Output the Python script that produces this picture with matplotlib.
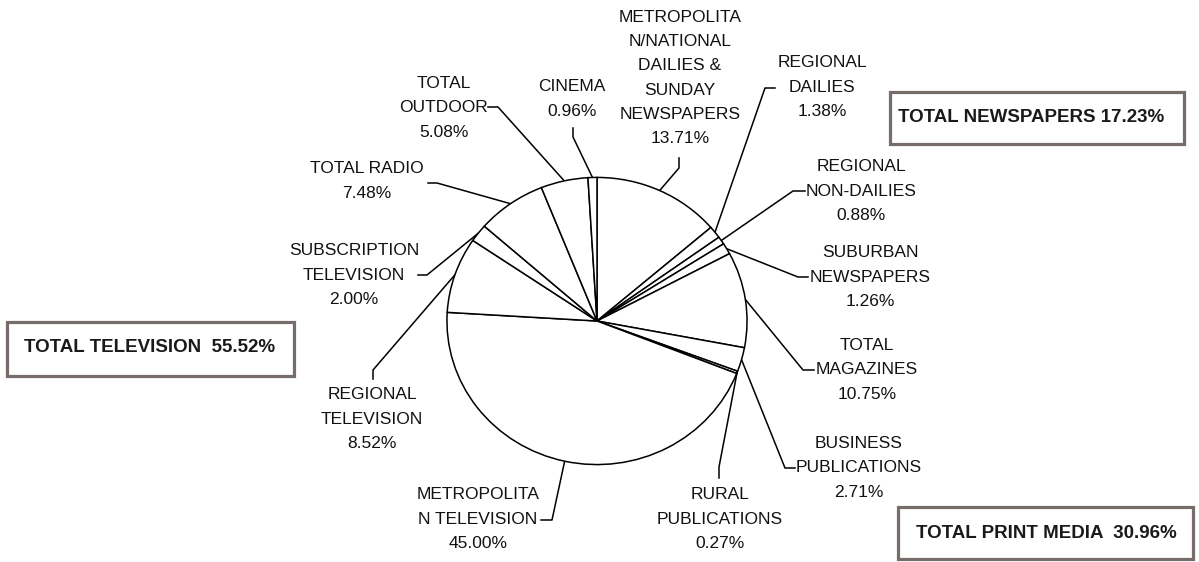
import numpy as np
import matplotlib
matplotlib.use("Agg")
import matplotlib.pyplot as plt
from matplotlib.patches import Rectangle

plt.rcParams['font.family'] = ['Liberation Sans', 'DejaVu Sans']

# media share data (clockwise from 12 o'clock)
names = ["METROPOLITA\nN/NATIONAL\nDAILIES &\nSUNDAY\nNEWSPAPERS",
         "REGIONAL\nDAILIES",
         "REGIONAL\nNON-DAILIES",
         "SUBURBAN\nNEWSPAPERS",
         "TOTAL\nMAGAZINES",
         "BUSINESS\nPUBLICATIONS",
         "RURAL\nPUBLICATIONS",
         "METROPOLITA\nN TELEVISION",
         "REGIONAL\nTELEVISION",
         "SUBSCRIPTION\nTELEVISION",
         "TOTAL RADIO",
         "TOTAL\nOUTDOOR",
         "CINEMA"]
shares = [13.71, 1.38, 0.88, 1.26, 10.75, 2.71, 0.27, 45.00, 8.52, 2.00, 7.48, 5.08, 0.96]

group_names = ["TOTAL TELEVISION  55.52%", "TOTAL NEWSPAPERS 17.23%", "TOTAL PRINT MEDIA  30.96%"]

# label layout in pixels: text centre, leader elbow, leader end
label_pos = [(680, 78), (822, 87), (861, 191), (870, 277), (867, 370), (859, 468),
             (720, 519), (478, 519), (372, 419), (354, 275), (367, 181), (444, 108), (572, 99)]
elbows = [(679, 168), (765, 88), (793, 191), (798, 277), (803, 370), (785, 468),
          (719, 467), (552, 520), (373, 370), (427, 275), (437, 183), (498, 107), (573, 137)]
ends = [(679, 158), (775, 88), (805, 191), (808, 277), (814, 370), (795, 468),
        (719, 478), (541, 520), (373, 379), (418, 275), (428, 183), (488, 107), (573, 128)]
# boxes: x0, y0, x1, y1 and text centre in pixels
boxes = [(7, 322, 294, 376), (890, 92, 1184, 144), (898, 507, 1193, 559)]
box_text = [(150, 348), (1031, 118), (1046, 533)]

W, H = 1199, 562
fig = plt.figure(figsize=(W / 100, H / 100), dpi=100)
ax = fig.add_axes([0, 0, 1, 1])
ax.set_xlim(0, W)
ax.set_ylim(H, 0)
ax.axis('off')

cx, cy, rx, ry = 597, 321, 150.5, 144
pax = fig.add_axes([(cx - rx) / W, (H - cy - ry) / H, 2 * rx / W, 2 * ry / H])
wedges, _ = pax.pie(shares, startangle=90, counterclock=False, radius=1,
                    colors=['white'] * len(shares),
                    wedgeprops=dict(edgecolor='black', linewidth=1.1))
pax.set_xlim(-1.003, 1.003)
pax.set_ylim(-1.003, 1.003)
pax.set_aspect('auto')
pax.axis('off')

to_main = pax.transData + ax.transData.inverted()
for w, name, val, tp, el, en in zip(wedges, names, shares, label_pos, elbows, ends):
    mid = np.deg2rad((w.theta1 + w.theta2) / 2)
    px, py = to_main.transform((np.cos(mid), np.sin(mid)))
    ax.plot([px, el[0], en[0]], [py, el[1], en[1]], color='black', lw=1.1)
    ax.text(tp[0], tp[1], f"{name}\n{val:.2f}%", ha='center', va='center',
            multialignment='center', fontsize=12.5, linespacing=1.76, color='#111111')

for (x0, y0, x1, y1), (tx, ty), g in zip(boxes, box_text, group_names):
    ax.add_patch(Rectangle((x0, y0), x1 - x0, y1 - y0, fill=False,
                           edgecolor='#776c69', linewidth=2.3))
    ax.text(tx, ty, g, ha='center', va='center',
            fontsize=13.5, fontweight='bold', color='#1a1a1a')

fig.savefig("out.png", dpi=100)
